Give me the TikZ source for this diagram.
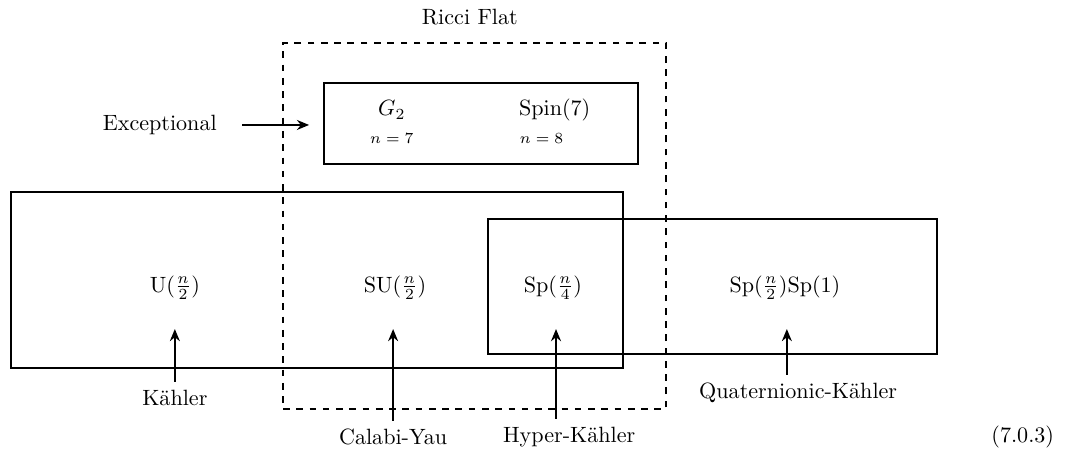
\documentclass[tikz,border=0pt]{standalone}
\usepackage{amsmath}
\usepackage{amssymb,amsfonts}
\usetikzlibrary{positioning}
\usetikzlibrary{arrows.meta}
\tikzset{every picture/.style={line width=0.9pt, >={Stealth[length=5.5pt, width=4.5pt, inset=1.8pt]}},
  groupbox/.style={draw},
  flatbox/.style={draw, dashed},
  small/.style={font=\scriptsize}}

\begin{document}
\begin{tikzpicture}
\useasboundingbox (0,0) rectangle (16.98,7.377);

\node (ricci) [flatbox, minimum width=6.09cm, minimum height=5.82cm] at (7.545,3.785) {};
\node (exc) [groupbox, minimum width=4.99cm, minimum height=1.29cm] at (7.645,5.41) {};
\node (kah) [groupbox, minimum width=9.73cm, minimum height=2.8cm] at (5.04,2.925) {};
\node (quat) [groupbox, minimum width=7.14cm, minimum height=2.146cm] at (11.33,2.82) {};

\node (g2) at (6.23,5.63) {$G_2$};
\node (spin7) [right of=g2, node distance=2.59cm] {$\mathrm{Spin}(7)$};
\node (n7) [small, below of=g2, node distance=0.45cm] {$n=7$};
\node (n8) [small, below of=spin7, node distance=0.45cm, xshift=-0.21cm] {$n=8$};

\node (u) at (2.78,2.8) {$\mathrm{U}(\frac{n}{2})$};
\node (su) at (6.28,2.8) {$\mathrm{SU}(\frac{n}{2})$};
\node (sp) at (8.79,2.8) {$\mathrm{Sp}(\frac{n}{4})$};
\node (spsp) at (12.48,2.8) {$\mathrm{Sp}(\frac{n}{2})\mathrm{Sp}(1)$};

\node (ricl) at (7.47,7.11) {Ricci Flat};
\node (excl) at (2.54,5.39) {Exceptional};
\node (kahl) at (2.78,1.05) {Kähler};
\node (cyl) at (6.25,0.43) {Calabi-Yau};
\node (hkl) at (9.05,0.43) {Hyper-Kähler};
\node (qkl) at (12.69,1.13) {Quaternionic-Kähler};
\node (eqno) at (16.26,0.43) {(7.0.3)};

\coordinate (kahtip) at (2.78,2.146);
\coordinate (cytip) at (6.25,2.146);
\coordinate (hktip) at (8.84,2.146);
\coordinate (qktip) at (12.51,2.146);

\draw[->, shorten <=0.27cm, shorten >=0.22cm] (excl) -- (excl -| exc.west);
\draw[->] (kahl) -- (kahtip);
\draw[->] (cyl) -- (cytip);
\draw[->] (hkl.north -| hktip) -- (hktip);
\draw[->] (qkl.north -| qktip) -- (qktip);
\end{tikzpicture}
\end{document}
